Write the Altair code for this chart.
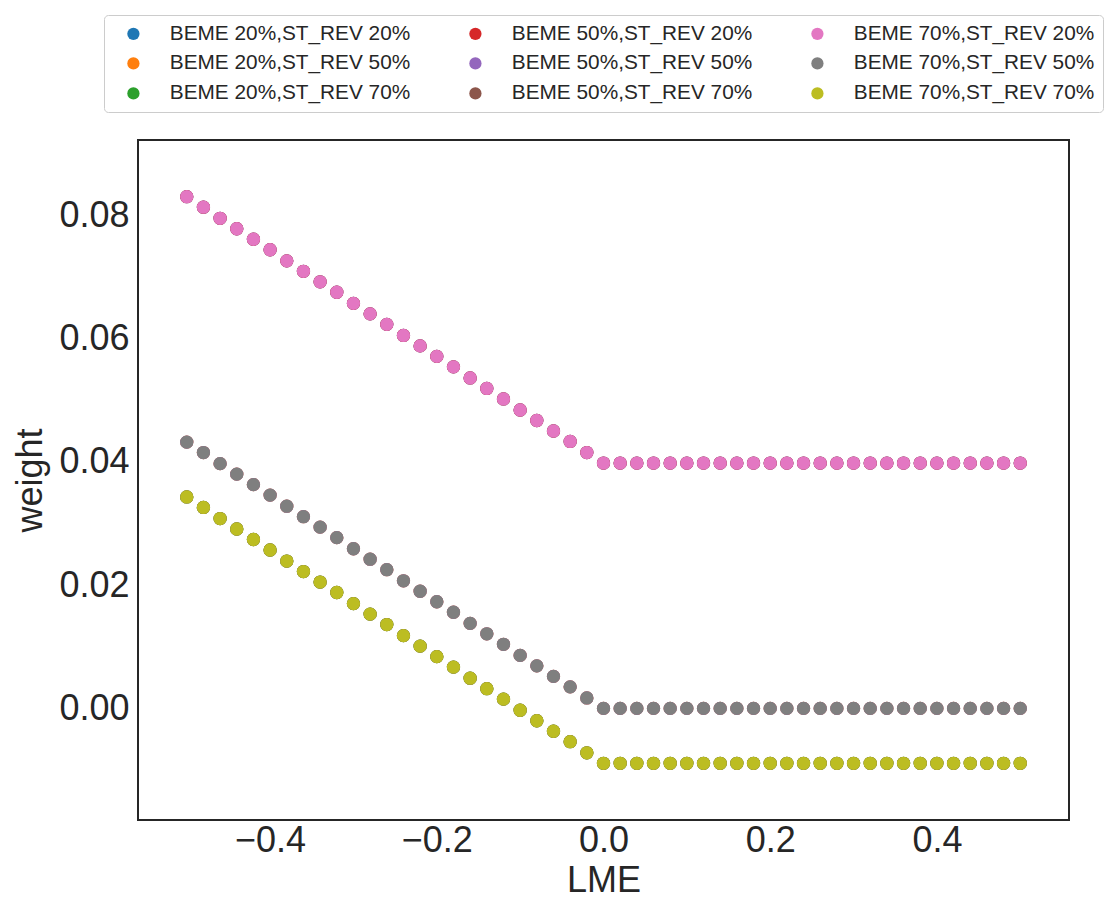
import altair as alt
import pandas as pd

# LME grid (x values)
lme = [-0.50, -0.48, -0.46, -0.44, -0.42, -0.40, -0.38, -0.36, -0.34, -0.32,
       -0.30, -0.28, -0.26, -0.24, -0.22, -0.20, -0.18, -0.16, -0.14, -0.12,
       -0.10, -0.08, -0.06, -0.04, -0.02, 0.00, 0.02, 0.04, 0.06, 0.08,
       0.10, 0.12, 0.14, 0.16, 0.18, 0.20, 0.22, 0.24, 0.26, 0.28,
       0.30, 0.32, 0.34, 0.36, 0.38, 0.40, 0.42, 0.44, 0.46, 0.48, 0.50]

# weights (ST_REV 20% / 50% / 70%)
w_st20 = [0.0830, 0.0813, 0.0795, 0.0778, 0.0761, 0.0744, 0.0726, 0.0709, 0.0692, 0.0675,
          0.0657, 0.0640, 0.0623, 0.0605, 0.0588, 0.0571, 0.0554, 0.0536, 0.0519, 0.0502,
          0.0484, 0.0467, 0.0450, 0.0433, 0.0415, 0.0398, 0.0398, 0.0398, 0.0398, 0.0398,
          0.0398, 0.0398, 0.0398, 0.0398, 0.0398, 0.0398, 0.0398, 0.0398, 0.0398, 0.0398,
          0.0398, 0.0398, 0.0398, 0.0398, 0.0398, 0.0398, 0.0398, 0.0398, 0.0398, 0.0398, 0.0398]
w_st50 = [0.0432, 0.0415, 0.0397, 0.0380, 0.0363, 0.0346, 0.0328, 0.0311, 0.0294, 0.0277,
          0.0259, 0.0242, 0.0225, 0.0207, 0.0190, 0.0173, 0.0156, 0.0138, 0.0121, 0.0104,
          0.0086, 0.0069, 0.0052, 0.0035, 0.0017, 0.0000, 0.0000, 0.0000, 0.0000, 0.0000,
          0.0000, 0.0000, 0.0000, 0.0000, 0.0000, 0.0000, 0.0000, 0.0000, 0.0000, 0.0000,
          0.0000, 0.0000, 0.0000, 0.0000, 0.0000, 0.0000, 0.0000, 0.0000, 0.0000, 0.0000, 0.0000]
w_st70 = [0.0343, 0.0326, 0.0308, 0.0291, 0.0274, 0.0257, 0.0239, 0.0222, 0.0205, 0.0188,
          0.0170, 0.0153, 0.0136, 0.0118, 0.0101, 0.0084, 0.0067, 0.0049, 0.0032, 0.0015,
          -0.0003, -0.0020, -0.0037, -0.0054, -0.0072, -0.0089, -0.0089, -0.0089, -0.0089, -0.0089,
          -0.0089, -0.0089, -0.0089, -0.0089, -0.0089, -0.0089, -0.0089, -0.0089, -0.0089, -0.0089,
          -0.0089, -0.0089, -0.0089, -0.0089, -0.0089, -0.0089, -0.0089, -0.0089, -0.0089, -0.0089, -0.0089]

beme_levels = ["20%", "50%", "70%"]
st_rev_levels = ["20%", "50%", "70%"]
st_rev_weights = {"20%": w_st20, "50%": w_st50, "70%": w_st70}

# tab10 colours, in plotting order
series_colors = {
    "BEME 20%,ST_REV 20%": "#1f77b4",
    "BEME 20%,ST_REV 50%": "#ff7f0e",
    "BEME 20%,ST_REV 70%": "#2ca02c",
    "BEME 50%,ST_REV 20%": "#d62728",
    "BEME 50%,ST_REV 50%": "#9467bd",
    "BEME 50%,ST_REV 70%": "#8c564b",
    "BEME 70%,ST_REV 20%": "#e377c2",
    "BEME 70%,ST_REV 50%": "#7f7f7f",
    "BEME 70%,ST_REV 70%": "#bcbd22",
}

rows = []
draw = 0
for b in beme_levels:
    for s in st_rev_levels:
        name = f"BEME {b},ST_REV {s}"
        for x, y in zip(lme, st_rev_weights[s]):
            rows.append({"LME": x, "weight": y, "series": name, "draw": draw})
            draw += 1
df = pd.DataFrame(rows)

legend_order = list(series_colors.keys())
legend_colors = [series_colors[n] for n in legend_order]

FONT = "Liberation Sans"
TXT = "#262626"

chart = alt.Chart(df).mark_circle(size=177, opacity=1).encode(
    x=alt.X("LME:Q",
            scale=alt.Scale(domain=[-0.5585, 0.5585], nice=False, zero=False),
            axis=alt.Axis(values=[-0.4, -0.2, 0.0, 0.2, 0.4], format=".1f",
                          labelPadding=3, titleY=60, titleBaseline="middle",
                          title="LME")),
    y=alt.Y("weight:Q",
            scale=alt.Scale(domain=[-0.0181, 0.0922], nice=False, zero=False),
            axis=alt.Axis(values=[0.0, 0.02, 0.04, 0.06, 0.08], format=".2f",
                          labelPadding=9, titleX=-108, titleY=340,
                          titleBaseline="middle", title="weight")),
    color=alt.Color("series:N",
                    scale=alt.Scale(domain=legend_order, range=legend_colors),
                    legend=alt.Legend(title=None, orient="none", legendX=-34, legendY=-125,
                                      columns=3, columnPadding=43, rowPadding=8,
                                      padding=8, labelOffset=26, symbolOffset=11,
                                      symbolType="circle", symbolSize=150,
                                      symbolStrokeWidth=0, symbolOpacity=1,
                                      labelFontSize=20.8, labelFont=FONT, labelColor=TXT,
                                      labelLimit=400, strokeColor="#cccccc",
                                      cornerRadius=4, fillColor="white")),
    order=alt.Order("draw:Q"),
).properties(
    width=931, height=680,
    autosize=alt.AutoSizeParams(type="none"),
    padding={"left": 138, "top": 140, "right": 49, "bottom": 100},
    background="white",
).configure_view(
    stroke=TXT, strokeWidth=2
).configure_axis(
    grid=False, domain=False, ticks=False, tickSize=0,
    labelFont=FONT, titleFont=FONT, labelFontSize=36, titleFontSize=36,
    titleFontWeight="normal", labelColor=TXT, titleColor=TXT,
)

chart.save("out.html", embed_options={"renderer": "svg", "actions": False})
